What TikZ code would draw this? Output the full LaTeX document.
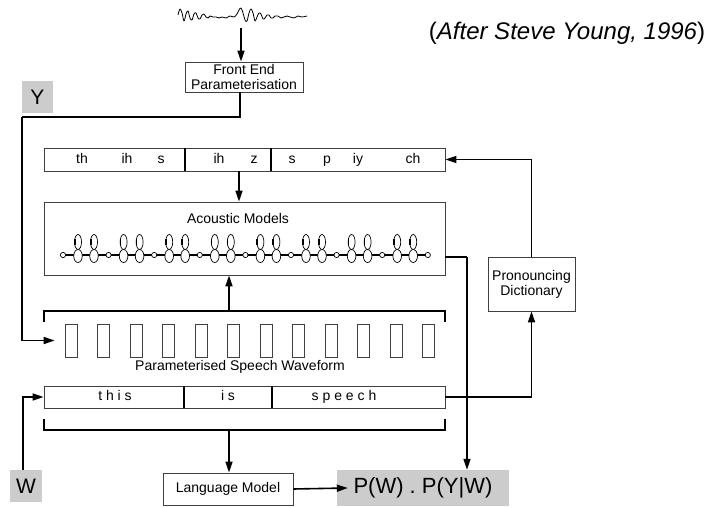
\documentclass[tikz,border=0pt]{standalone}
\usepackage{fontspec}
\setmainfont{Liberation Sans}
\usetikzlibrary{arrows.meta}
\newcommand\fsz{\fontsize{14}{15}\selectfont}
\begin{document}
\begin{tikzpicture}[x=1pt,y=-1pt,
  box/.style={draw=black!75, line width=0.8pt, inner sep=0pt, font=\fsz},
  conn/.style={line width=1.6pt},
  arr/.style={conn, -{Triangle[length=11pt,width=7pt]}},
  graybox/.style={fill=black!20, inner sep=0pt},
  phon/.style={font=\fsz, inner sep=0pt, text height=10pt, text depth=3pt},
  frame/.style={draw=black!75, line width=0.7pt, minimum width=12pt, minimum height=33pt, inner sep=0pt},
  divider/.style={line width=1.8pt}]
\useasboundingbox (0,0) rectangle (710,508);

% waveform
\draw[line width=0.8pt, line join=round] plot[smooth, tension=0.6] coordinates {
  (178,15) (180,9) (182,13) (184,21) (186,14) (188,11) (190,18) (192,20) (194,14) (196,13)
  (198,18) (200,19) (202,15) (204,14) (206,17) (208,18) (210,16) (213,17) (216,17) (219,18)
  (222,17) (226,18) (230,16) (234,17) (237,14) (239,10) (241,8) (243,13) (245,20) (247,21)
  (249,13) (251,9) (253,13) (255,21) (257,17) (259,13) (261,14) (263,19) (265,18) (267,15)
  (269,15) (271,18) (273,18) (275,16) (278,16) (281,18) (284,17) (287,16) (290,17) (294,18)
  (298,16) (302,17) (307,16)};
\coordinate (ws) at (241,28);

% title
\node[font=\fontsize{24}{24}\selectfont, inner sep=0pt] (after) at (567,33) {(\textit{After Steve Young, 1996})};

% front end
\node[box, minimum width=118pt, minimum height=30pt, align=center] (fe) at (244,77) {Front End\\Parameterisation};
\node[graybox, minimum width=31pt, minimum height=32pt, font=\fontsize{21}{21}\selectfont] (Y) at (37.5,97) {Y};

% phone box
\node[box, minimum width=401pt, minimum height=23pt] (ph) at (244.5,159.5) {};
\draw[divider] (185,148) -- (185,171);
\draw[divider] (271,148) -- (271,171);
\node[phon] (p1) at (82,160) {th};
\node[phon] (p2) at (127,160) {ih};
\node[phon] (p3) at (161,160) {s};
\node[phon] (p4) at (219,160) {ih};
\node[phon] (p5) at (254,160) {z};
\node[phon] (p6) at (292,160) {s};
\node[phon] (p7) at (327,160) {p};
\node[phon] (p8) at (358,160) {iy};
\node[phon] (p9) at (413,160) {ch};

% acoustic models
\node[box, minimum width=401pt, minimum height=73pt] (am) at (244.5,238.5) {};
\node[font=\fsz, inner sep=0pt] (amt) at (238,218) {Acoustic Models};
\draw[line width=1.3pt] (63,255) -- (428,255);
\foreach \i in {0,...,7} {
  \foreach \d in {15,31} {
    \draw[line width=0.7pt] ({63+45.6*\i+\d},242) ellipse (3.5 and 7.5);
    \draw[line width=1.6pt] ({63+45.6*\i+\d},242) ++(200:3.5 and 7.5) arc[start angle=200, end angle=160, x radius=3.5, y radius=7.5];
    \draw[line width=0.7pt, fill=white] ({63+45.6*\i+\d},256) ellipse (4.3 and 6.5);
  }
}
\foreach \i in {0,...,8} {
  \draw[line width=0.7pt, fill=white] ({63+45.6*\i},255) circle (2.6);
}

% bracket over frames
\coordinate (b1l) at (44,322);
\coordinate (b1r) at (445,322);
\coordinate (b1m) at (229,311);
\draw[conn] (b1l) -- (44,311) -- (445,311) -- (b1r);
\draw[arr] (b1m) -- (b1m |- am.south);

% frames
\foreach \i in {1,...,12} {
  \node[frame] (f\i) at ({71+32.5*(\i-1)},340.5) {};
}
\node[font=\fsz, inner sep=0pt] (psw) at (240,367) {Parameterised Speech Waveform};

% words
\node[box, minimum width=401pt, minimum height=22pt] (wd) at (244.5,397) {};
\draw[line width=1.4pt] (184,386) -- (184,408);
\draw[line width=1.4pt] (272,386) -- (272,408);
\node[phon] (w1) at (115,397) {t h i s};
\node[phon] (w2) at (228,397) {i s};
\node[phon] (w3) at (344,397) {s p e e c h};

% bracket under words
\coordinate (b2l) at (44,419);
\coordinate (b2r) at (445,419);
\coordinate (b2m) at (229,430);
\draw[conn] (b2l) -- (44,430) -- (445,430) -- (b2r);

% dictionary
\node[box, minimum width=87pt, minimum height=54pt, align=center] (dict) at (531.5,284) {Pronouncing\\Dictionary};

% bottom
\node[box, minimum width=130pt, minimum height=32pt] (lm) at (228,489) {Language Model};
\node[graybox, minimum width=172pt, minimum height=36pt, font=\fontsize{22}{22}\selectfont] (P) at (423,488) {P(W) . P(Y|W)};
\node[graybox, minimum width=32pt, minimum height=32pt, font=\fontsize{21}{21}\selectfont] (W) at (26,486) {W};

% connectors
\draw[arr] (ws) -- (ws |- fe.north);
\coordinate (yc) at (22,117);
\draw[conn] ([xshift=-4pt]fe.south) |- (yc);
\draw[arr] (yc) |- ([xshift=-10pt]f1.west);
\draw[arr] ([xshift=-5.5pt]ph.south) -- ([xshift=-5.5pt]am.north);
\draw[arr] (b2m) -- (b2m |- lm.north);
\draw[arr] ([xshift=-3pt]W.north) |- (wd.west);
\draw[arr] (wd.east) -| (dict.south);
\draw[arr] (dict.north) |- (ph.east);
\coordinate (amc) at (467,257);
\draw[conn] (am.east |- amc) -- (amc);
\draw[arr] (amc) -- (amc |- P.north);
\draw[arr] (lm.east) -- ([xshift=11pt]P.west);
\end{tikzpicture}
\end{document}
